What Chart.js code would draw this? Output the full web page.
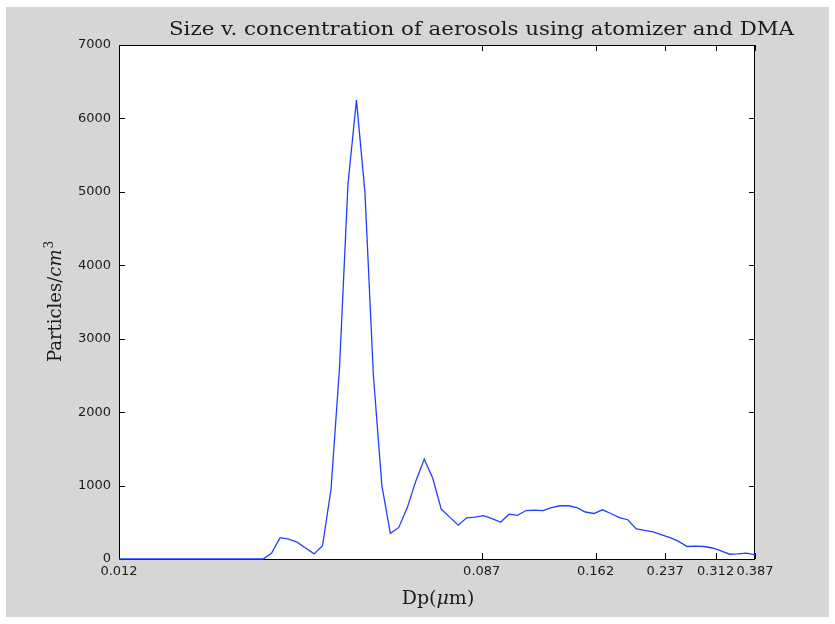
<!DOCTYPE html>
<html><head><meta charset="utf-8">
<script src="https://cdn.jsdelivr.net/npm/chart.js@4/dist/chart.umd.min.js"></script>
<style>html,body{margin:0;padding:0;background:#fff;}canvas{display:block}</style>
</head><body>
<canvas id="c" width="835" height="624"></canvas>
<script>
// Particle diameter Dp (µm), DMA channels
const diameters = [
0.01200,0.01257,0.01316,0.01379,0.01444,0.01513,0.01584,0.01660,0.01738,0.01821,
0.01907,0.01997,0.02092,0.02191,0.02295,0.02404,0.02518,0.02637,0.02762,0.02893,
0.03030,0.03174,0.03324,0.03482,0.03647,0.03820,0.04001,0.04190,0.04389,0.04597,
0.04815,0.05043,0.05282,0.05532,0.05795,0.06069,0.06357,0.06658,0.06974,0.07304,
0.07651,0.08013,0.08393,0.08791,0.09208,0.09644,0.10101,0.10580,0.11082,0.11607,
0.12157,0.12733,0.13337,0.13969,0.14631,0.15325,0.16051,0.16812,0.17609,0.18444,
0.19318,0.20233,0.21192,0.22197,0.23249,0.24351,0.25506,0.26715,0.27981,0.29307,
0.30696,0.32151,0.33675,0.35271,0.36943,0.38700];
// Particles / cm^3
const concentrations = [
0,0,0,0,0,0,0,0,0,0,
0,0,0,0,0,0,0,0,80,290,
270,230,150,70,180,950,2600,5100,6250,5000,
2500,1000,350,430,700,1060,1360,1100,680,570,
460,560,570,590,550,500,610,595,660,665,
660,700,725,725,700,640,620,670,620,565,
535,410,390,370,330,290,240,170,175,170,
150,110,65,70,80,55];
const xTickValues = [0.012,0.087,0.162,0.237,0.312,0.387];
const xTickLabels = ['0.012','0.087','0.162','0.237','0.312','0.387'];
const yTickValues = [0,1000,2000,3000,4000,5000,6000,7000];
const titleText = 'Size v. concentration of aerosols using atomizer and DMA';

const tickFont = {family:'DejaVu Sans', size:13};

const decor = {
  id:'decor',
  beforeDraw(chart){
    const ctx = chart.ctx, a = chart.chartArea;
    ctx.save();
    ctx.fillStyle = '#ffffff'; ctx.fillRect(0,0,chart.width,chart.height);
    ctx.fillStyle = '#d6d6d6'; ctx.fillRect(6,7,823,610);
    ctx.fillStyle = '#ffffff'; ctx.fillRect(a.left,a.top,a.right-a.left,a.bottom-a.top);
    ctx.restore();
  },
  beforeDatasetsDraw(chart){
    const ctx = chart.ctx, a = chart.chartArea;
    const xs = chart.scales.x, ys = chart.scales.y;
    ctx.save();
    ctx.strokeStyle = '#000'; ctx.lineWidth = 1;
    ctx.strokeRect(a.left+0.5,a.top+0.5,a.right-a.left-1,a.bottom-a.top);
    const L = 6;
    ctx.beginPath();
    xTickValues.forEach(v=>{
      const px = Math.round(xs.getPixelForValue(v))+0.5;
      ctx.moveTo(px,a.bottom); ctx.lineTo(px,a.bottom-L);
      ctx.moveTo(px,a.top); ctx.lineTo(px,a.top+L);
    });
    yTickValues.forEach(v=>{
      const py = Math.round(ys.getPixelForValue(v))+0.5;
      ctx.moveTo(a.left,py); ctx.lineTo(a.left+L,py);
      ctx.moveTo(a.right,py); ctx.lineTo(a.right-L,py);
    });
    ctx.stroke();
    ctx.restore();
  },
  afterDraw(chart){
    const ctx = chart.ctx;
    ctx.save();
    ctx.fillStyle = '#1a1a1a';
    // title
    ctx.font = '19px "DejaVu Serif"';
    ctx.textBaseline = 'alphabetic';
    const w = ctx.measureText(titleText).width;
    const target = 625;
    ctx.translate(169,35);
    ctx.scale(target/w,1);
    ctx.textAlign='left';
    ctx.fillText(titleText,0,0);
    ctx.restore();

    // x label: Dp(μm)
    ctx.save();
    ctx.fillStyle = '#1a1a1a';
    ctx.textBaseline='alphabetic';
    const partsX = [['Dp(', '19px "DejaVu Serif"'],['μ','italic 19px "DejaVu Serif"'],['m)', '19px "DejaVu Serif"']];
    let tw = 0; partsX.forEach(p=>{ctx.font=p[1]; tw+=ctx.measureText(p[0]).width;});
    let x0 = 438 - tw/2;
    partsX.forEach(p=>{ctx.font=p[1]; ctx.fillText(p[0],x0,604); x0+=ctx.measureText(p[0]).width;});
    ctx.restore();

    // y label: Particles/cm^3
    ctx.save();
    ctx.fillStyle = '#1a1a1a';
    ctx.translate(61,302);
    ctx.rotate(-Math.PI/2);
    ctx.textBaseline='alphabetic';
    const partsY = [['Particles/','18px "DejaVu Serif"',0],['cm','italic 18px "DejaVu Serif"',0],['3','12px "DejaVu Serif"',-8]];
    let th = 0; partsY.forEach(p=>{ctx.font=p[1]; th+=ctx.measureText(p[0]).width;});
    let y0 = -th/2;
    partsY.forEach(p=>{ctx.font=p[1]; ctx.fillText(p[0],y0,p[2]); y0+=ctx.measureText(p[0]).width+(p[0]==='cm'?1:0);});
    ctx.restore();
  }
};

new Chart(document.getElementById('c'), {
  type:'line',
  data:{datasets:[{
    data: diameters.map((d,i)=>({x:d,y:concentrations[i]})),
    borderColor:'#1f3fff', borderWidth:1.3, pointRadius:0, tension:0, fill:false, clip:2
  }]},
  options:{
    responsive:false, animation:false, devicePixelRatio:1,
    layout:{padding:{top:45,right:80,left:0,bottom:0}},
    plugins:{legend:{display:false},tooltip:{enabled:false},title:{display:false}},
    scales:{
      x:{type:'logarithmic', min:0.012, max:0.387,
        afterBuildTicks:s=>{s.ticks = xTickValues.map(v=>({value:v}));},
        afterFit:s=>{s.height=65;},
        grid:{display:false,drawTicks:false}, border:{display:false},
        ticks:{autoSkip:false,maxRotation:0,minRotation:0,padding:5,color:'#1a1a1a',font:tickFont,
          callback:(v,i)=>xTickLabels[i]}},
      y:{type:'linear', min:0, max:7000,
        afterBuildTicks:s=>{s.ticks = yTickValues.map(v=>({value:v}));},
        afterFit:s=>{s.width=119;},
        grid:{display:false,drawTicks:false}, border:{display:false},
        ticks:{padding:8,color:'#1a1a1a',font:tickFont,callback:v=>String(v)}}
    }
  },
  plugins:[decor]
});
</script>
</body></html>
